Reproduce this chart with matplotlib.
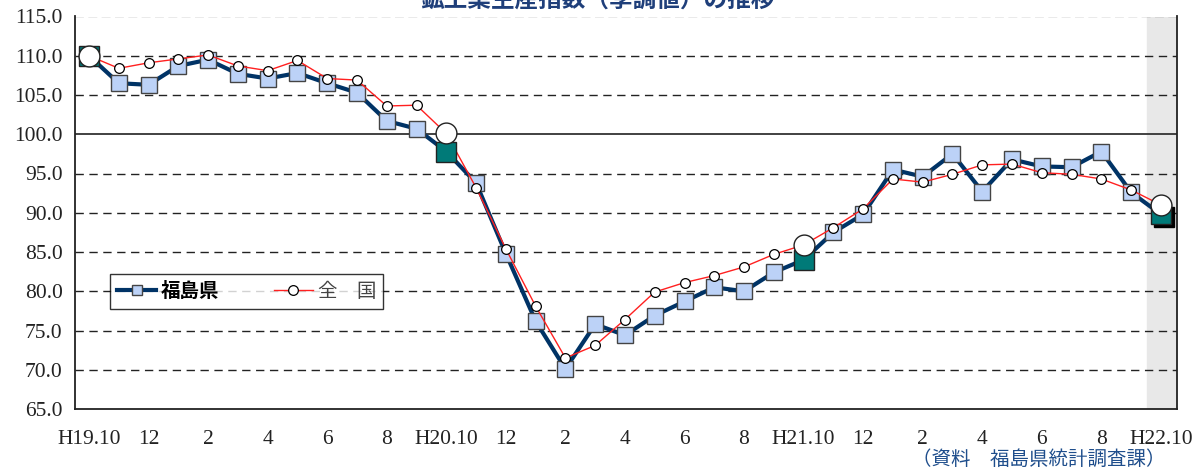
import numpy as np
import matplotlib.pyplot as plt

plt.rcParams['font.family'] = ['Liberation Serif', 'Noto Sans CJK JP', 'DejaVu Sans']

# monthly index, H19.10 .. H22.10
tick_labels = ['H19.10', '12', '2', '4', '6', '8', 'H20.10', '12', '2', '4', '6', '8',
               'H21.10', '12', '2', '4', '6', '8', 'H22.10']

fukushima = [110.0, 106.5, 106.3, 108.7, 109.5, 107.7, 107.1, 107.8, 106.5, 105.3,
             101.7, 100.7, 97.8, 93.8, 84.8, 76.2, 70.1, 75.8, 74.4, 76.9,
             78.7, 80.5, 80.0, 82.4, 84.0, 87.5, 89.8, 95.5, 94.6, 97.5,
             92.7, 96.8, 95.9, 95.8, 97.8, 92.6, 89.8]

zenkoku = [110.0, 108.4, 109.1, 109.6, 110.1, 108.7, 108.1, 109.4, 107.1, 106.9,
           103.6, 103.7, 100.1, 93.2, 85.4, 78.1, 71.5, 73.1, 76.4, 79.9,
           81.1, 82.0, 83.1, 84.7, 85.9, 88.1, 90.5, 94.3, 93.9, 94.9,
           96.1, 96.2, 95.1, 94.9, 94.3, 92.9, 91.0]

x = np.arange(len(fukushima))
oct_idx = [0, 12, 24, 36]

fig = plt.figure(figsize=(11.95, 4.68), dpi=100)
ax = fig.add_axes([75 / 1195, 1 - 409 / 468, 1102 / 1195, 392.5 / 468])

ax.set_xlim(-0.47, 36.54)
ax.set_ylim(65, 115)
ax.axvspan(35.53, 36.54, color='#e8e8e8', zorder=0)

for v in np.arange(70, 116, 5):
    if v == 100:
        ax.axhline(v, color='#333333', lw=1.3, zorder=1)
    elif v == 115:
        ax.axhline(v, color='#444444', lw=1.6, ls=(0, (4, 2)), zorder=1)
    else:
        ax.axhline(v, color='#222222', lw=1, ls=(0, (6, 4)), zorder=1)

navy = '#003366'
ax.plot(x, fukushima, color=navy, lw=3, marker='s', ms=11, mfc='#bcd2f7',
        mec='#444444', mew=1, zorder=3, label='福島県')
ax.plot(x, zenkoku, color='#ff2020', lw=1, marker='o', ms=7, mfc='white',
        mec='black', mew=0.9, zorder=4, label='全　国')

# October points highlighted
fk_oct = [fukushima[i] for i in oct_idx]
zk_oct = [zenkoku[i] for i in oct_idx]
ax.plot([x[-1] + 0.12], [fukushima[-1] - 0.35], 's', ms=14, color='black', zorder=4.5)
ax.plot(oct_idx, fk_oct, 's', ms=14, mfc='#007a78', mec='#222222', mew=1, ls='none', zorder=5)
ax.plot(oct_idx, zk_oct, 'o', ms=15, mfc='white', mec='#222222', mew=1, ls='none', zorder=6)

ax.set_yticks(np.arange(65, 116, 5))
ax.set_yticklabels(['%.1f' % v for v in np.arange(65, 116, 5)])
ax.set_xticks(x[::2])
ax.set_xticklabels(tick_labels)
ax.tick_params(axis='both', length=0, labelsize=15.5, colors='#222222')
ax.tick_params(axis='x', pad=15)
ax.tick_params(axis='y', pad=9)

for s in ['left', 'bottom', 'right']:
    ax.spines[s].set_color('#222222')
    ax.spines[s].set_linewidth(1.3)
ax.spines['top'].set_visible(False)

leg = ax.legend(loc='center left', bbox_to_anchor=(0.032, 0.30), ncol=2, frameon=True,
                fancybox=False, edgecolor='black', handlelength=2.0,
                columnspacing=2.8, borderpad=0.35, handletextpad=0.25,
                borderaxespad=0, prop={'family': ['Noto Sans CJK JP'], 'size': 14})
leg.get_frame().set_linewidth(1)
leg.get_texts()[0].set_fontweight('bold')
leg.get_texts()[1].set_color('#444444')
for h in leg.legend_handles:
    h.set_markersize(7)

fig.text(0.5, 1.0, '鉱工業生産指数（季調値）の推移', ha='center', va='center',
         fontsize=17, fontweight='bold', color='#1f3f7a', family=['Noto Sans CJK JP'])
fig.text(1165 / 1195, 1 - 459 / 468, '（資料　福島県統計調査課）', ha='right', va='center',
         fontsize=14, color='#1f4e8c', family=['Noto Sans CJK JP'])

fig.savefig('out.png', dpi=100)
